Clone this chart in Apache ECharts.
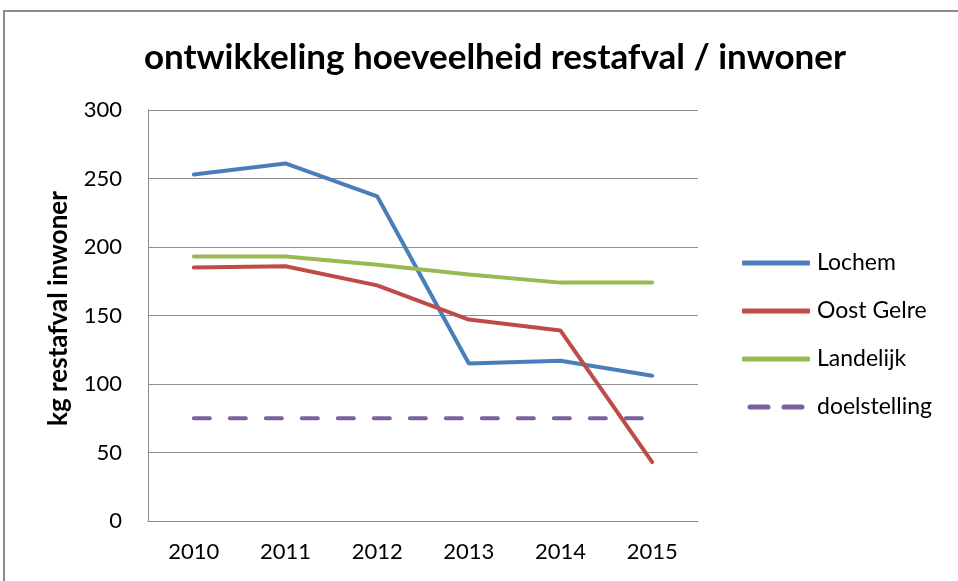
<!DOCTYPE html>
<html>
<head>
<meta charset="utf-8">
<script src="https://cdn.jsdelivr.net/npm/echarts@6/dist/echarts.min.js"></script>
<style>
  html, body { margin: 0; padding: 0; background: #fff; }
  #chart { width: 958px; height: 581px; }
</style>
</head>
<body>
<div id="chart"></div>
<script>
const years = ['2010', '2011', '2012', '2013', '2014', '2015'];
const lochem = [253, 261, 237, 115, 117, 106];
const oostGelre = [185, 186, 172, 147, 139, 43];
const landelijk = [193, 193, 187, 180, 174, 174];
const doelstelling = [75, 75, 75, 75, 75, 75];

const font = 'Lato, "Open Sans", sans-serif';
const solidIcon = 'roundRect';
const dashIcon = 'path://M2,0H20A2,2 0 0 1 20,5H2A2,2 0 0 1 2,0Z M36,0H54A2,2 0 0 1 54,5H36A2,2 0 0 1 36,0Z';

const chart = echarts.init(document.getElementById('chart'));

function line(name, data, color, dashed) {
  return {
    name: name,
    type: 'line',
    data: data,
    symbol: 'none',
    color: color,
    lineStyle: { color: color, width: 4, type: dashed ? [16, 20] : 'solid', cap: 'round' },
    animation: false
  };
}

chart.setOption({
  backgroundColor: '#fff',
  title: {
    text: 'ontwikkeling hoeveelheid restafval / inwoner',
    left: 490,
    textAlign: 'center',
    top: 35,
    textStyle: { fontFamily: font, fontSize: 35, fontWeight: 'bold', color: '#000' }
  },
  graphic: [{
    type: 'rect',
    shape: { x: 4, y: 11, width: 1000, height: 700 },
    style: { fill: 'none', stroke: '#8c8c8c', lineWidth: 2 },
    silent: true
  }],
  legend: {
    orient: 'vertical',
    left: 742,
    top: 239,
    padding: 0,
    itemWidth: 68,
    itemHeight: 5,
    itemGap: 0,
    textStyle: { fontFamily: font, fontSize: 23, color: '#000', lineHeight: 48, padding: [0, 0, 0, 2] },
    data: [
      { name: 'Lochem', icon: solidIcon },
      { name: 'Oost Gelre', icon: solidIcon },
      { name: 'Landelijk', icon: solidIcon },
      { name: 'doelstelling', icon: dashIcon }
    ]
  },
  grid: { left: 148, right: 260, top: 110, bottom: 60 },
  xAxis: {
    type: 'category',
    data: years,
    boundaryGap: true,
    axisLine: { lineStyle: { color: '#8c8c8c', width: 1 } },
    axisTick: { show: false },
    axisLabel: { fontFamily: font, fontSize: 22, color: '#000', margin: 20 }
  },
  yAxis: {
    type: 'value',
    min: 0,
    max: 300,
    interval: 50,
    name: 'kg restafval inwoner',
    nameLocation: 'middle',
    nameGap: 76,
    nameTextStyle: { fontFamily: font, fontSize: 26, fontWeight: 'bold', color: '#000', padding: [0, 0, 0, 14] },
    axisLine: { show: true, lineStyle: { color: '#8c8c8c', width: 1 } },
    axisTick: { show: false },
    axisLabel: { fontFamily: font, fontSize: 22, color: '#000', margin: 26 },
    splitLine: { lineStyle: { color: '#8c8c8c', width: 1 } }
  },
  series: [
    line('Lochem', lochem, '#4a7ebb', false),
    line('Oost Gelre', oostGelre, '#be4b48', false),
    line('Landelijk', landelijk, '#98b954', false),
    line('doelstelling', doelstelling, '#7d60a0', true)
  ]
});
</script>
</body>
</html>
